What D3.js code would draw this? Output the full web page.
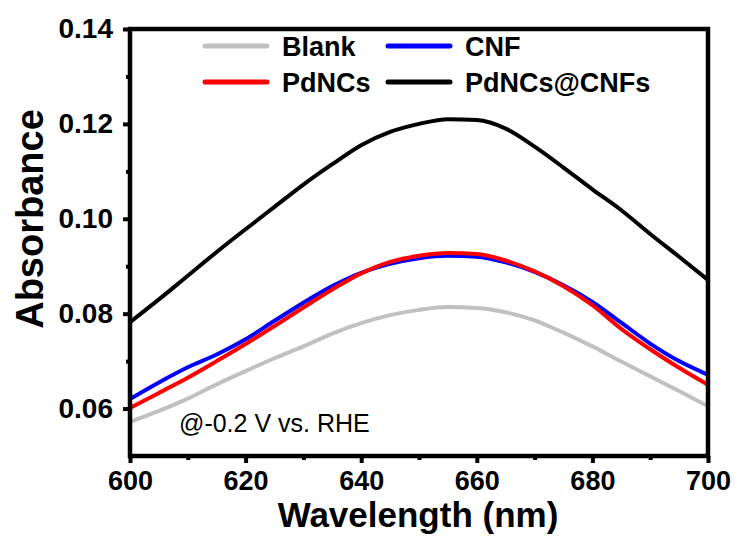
<!DOCTYPE html>
<html>
<head>
<meta charset="utf-8">
<script src="https://cdn.jsdelivr.net/npm/d3@7"></script>
<style>
  body{margin:0;background:#fff}
  text{font-family:"Liberation Sans",Arial,sans-serif}
</style>
</head>
<body>
<script>
// data (wavelength in nm, absorbance)
var wavelength=[600,605,610,615,620,625,630,635,640,645,650,655,660,665,670,675,680,685,690,695,700]
var blank=[0.0572,0.0595,0.0621,0.0651,0.0679,0.0706,0.0731,0.0758,0.0780,0.0797,0.0808,0.0814,0.0812,0.0803,0.0786,0.0760,0.0731,0.0699,0.0668,0.0637,0.0605]
var cnf=[0.0620,0.0655,0.0687,0.0714,0.0746,0.0785,0.0823,0.0858,0.0886,0.0905,0.0917,0.0922,0.0920,0.0908,0.0888,0.0860,0.0825,0.0781,0.0737,0.0700,0.0671]
var pdncs=[0.0601,0.0633,0.0665,0.0700,0.0736,0.0774,0.0813,0.0851,0.0885,0.0909,0.0922,0.0928,0.0926,0.0912,0.0889,0.0858,0.0818,0.0768,0.0725,0.0686,0.0650]
var pdncsCnfs=[0.0782,0.0830,0.0880,0.0930,0.0978,0.1025,0.1072,0.1115,0.1155,0.1183,0.1200,0.1210,0.1208,0.1190,0.1152,0.1108,0.1062,0.1018,0.0968,0.0920,0.0871]
var names=["Blank","CNF","PdNCs","PdNCs@CNFs"]
var colors=["#c0c0c0","#0000ff","#ff0000","#000000"]
var xTicks=[600,620,640,660,680,700]
var xMinor=[610,630,650,670,690]
var yTicks=[0.06,0.08,0.10,0.12,0.14]
var yMinor=[0.07,0.09,0.11,0.13]

var drawChart=function(){
  var screen={width:739,height:541}
  var margin={top:29,right:31,bottom:85,left:130}
  var w=screen.width-margin.left-margin.right
  var h=screen.height-margin.top-margin.bottom

//scale
  var xScale=d3.scaleLinear().domain([600,700]).range([0,w])
  var yScale=d3.scaleLinear().domain([0.05,0.14]).range([h,0])

  var svg=d3.select("body").append("svg")
    .attr('width',screen.width)
    .attr('height',screen.height)

  var plot=svg.append("g")
    .attr('transform','translate('+margin.left+','+margin.top+')')

// lines, drawn in order so black and red sit on top
  var series=[blank,cnf,pdncs,pdncsCnfs]
  var line=d3.line()
    .x(function(d,i){return xScale(wavelength[i])})
    .y(function(d){return yScale(d)})
    .curve(d3.curveMonotoneX)
  plot.selectAll("path.series")
    .data(series)
    .enter()
    .append("path")
    .attr('class','series')
    .attr('d',line)
    .attr('fill','none')
    .attr('stroke',function(d,i){return colors[i]})
    .attr('stroke-width',4)
    .attr('stroke-linejoin','round')

// axis
  var xAxis=d3.axisBottom(xScale).tickValues(xTicks).tickSize(7).tickSizeOuter(0).tickPadding(8)
  var xAxisMinor=d3.axisBottom(xScale).tickValues(xMinor).tickSize(4).tickSizeOuter(0).tickFormat("")
  var yAxis=d3.axisLeft(yScale).tickValues(yTicks).tickSize(7).tickSizeOuter(0).tickPadding(10).tickFormat(d3.format(".2f"))
  var yAxisMinor=d3.axisLeft(yScale).tickValues(yMinor).tickSize(4).tickSizeOuter(0).tickFormat("")

  var gx=plot.append("g").attr('transform','translate(0,'+h+')').call(xAxis)
  plot.append("g").attr('transform','translate(0,'+h+')').call(xAxisMinor)
  var gy=plot.append("g").call(yAxis)
  plot.append("g").call(yAxisMinor)

  plot.selectAll(".domain").remove()
  plot.selectAll(".tick line").attr('stroke','#000').attr('stroke-width',4)
  plot.selectAll(".tick text")
    .attr('fill','#000')
    .style('font-size','27px')
    .style('font-weight','bold')
  gy.selectAll(".tick text").style('font-size','28px')
  gx.selectAll(".tick text").attr('dy','0.72em')

// frame
  plot.append("rect")
    .attr('x',0).attr('y',0)
    .attr('width',w).attr('height',h)
    .attr('fill','none')
    .attr('stroke','#000')
    .attr('stroke-width',4.5)

// axis titles
  svg.append("text")
    .attr('x',margin.left+w/2-1)
    .attr('y',527)
    .attr('text-anchor','middle')
    .style('font-size','35px')
    .style('font-weight','bold')
    .text("Wavelength (nm)")
  svg.append("text")
    .attr('transform','translate(43,219) rotate(-90)')
    .attr('text-anchor','middle')
    .style('font-size','38px')
    .style('font-weight','bold')
    .text("Absorbance")

// legend
  var legend=[
    {name:names[0],color:colors[0],x:205,y:46},
    {name:names[1],color:colors[1],x:388,y:46},
    {name:names[2],color:colors[2],x:205,y:82},
    {name:names[3],color:colors[3],x:388,y:82}
  ]
  var lg=svg.selectAll("g.legend")
    .data(legend)
    .enter()
    .append("g")
    .attr('class','legend')
    .attr('transform',function(d){return 'translate('+d.x+','+d.y+')'})
  lg.append("line")
    .attr('x1',0).attr('x2',62)
    .attr('stroke',function(d){return d.color})
    .attr('stroke-width',5)
    .attr('stroke-linecap','round')
  lg.append("text")
    .attr('x',77)
    .attr('y',10)
    .style('font-size','27px')
    .style('font-weight','bold')
    .text(function(d){return d.name})

// condition label
  svg.append("text")
    .attr('x',179)
    .attr('y',432)
    .style('font-size','25px')
    .text("@-0.2 V vs. RHE")
}

drawChart()
</script>
</body>
</html>
